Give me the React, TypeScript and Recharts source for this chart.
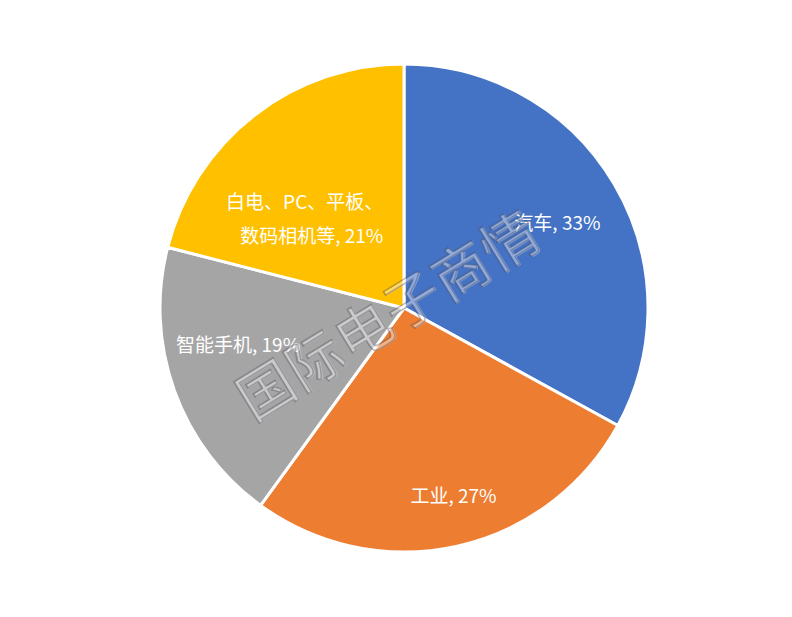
import { PieChart, Pie, Cell } from 'recharts';

// 占比数据（从顶部顺时针）
const names = ['汽车', '工业', '智能手机', '白电、PC、平板、数码相机等'];
const shares = [33, 27, 19, 21];
const colors = ['#4472C4', '#ED7D31', '#A5A5A5', '#FFC000'];

// 标签换行（Excel 那样把长标签拆两行）
const labelLines = [['汽车, 33%'], ['工业, 27%'], ['智能手机, 19%'], ['白电、PC、平板、', '数码相机等, 21%']];
// 标签微调：半径比例 + 像素偏移
const labelTweak = [
  { k: 0.74, dx: -2, dy: 5 },
  { k: 0.78, dx: 8, dy: 0 },
  { k: 0.74, dx: 4, dy: -26 },
  { k: 0.62, dx: -12, dy: 29 },
];

const data = names.map((n, i) => ({ name: n, value: shares[i] }));

const RAD = Math.PI / 180;

const renderLabel = (props: any) => {
  const { cx, cy, midAngle, outerRadius, index } = props;
  const t = labelTweak[index];
  const x = cx + outerRadius * t.k * Math.cos(-midAngle * RAD) + t.dx;
  const y = cy + outerRadius * t.k * Math.sin(-midAngle * RAD) + t.dy;
  const lines = labelLines[index];
  const lh = 34;
  const y0 = y - ((lines.length - 1) * lh) / 2;
  const multi = lines.length > 1;
  return (
    <text
      x={multi ? x + 84 : x}
      y={y0}
      fill="#ffffff"
      fontSize={19}
      fontFamily='"Noto Sans CJK SC", "Noto Sans", sans-serif'
      textAnchor={multi ? 'end' : 'middle'}
      dominantBaseline="central"
    >
      {lines.map((l, i) => (
        <tspan key={i} x={multi ? x + 84 : x} dy={i === 0 ? 0 : lh}>{l}</tspan>
      ))}
    </text>
  );
};

export default function App() {
  return (
    <div style={{ position: 'absolute', left: 0, top: 0, width: 792, height: 617, background: '#fff', overflow: 'hidden' }}>
      <PieChart width={792} height={617} margin={{ top: 0, right: 0, bottom: 0, left: 0 }}>
        <Pie
          data={data}
          dataKey="value"
          nameKey="name"
          cx={404}
          cy={308}
          outerRadius={244}
          startAngle={90}
          endAngle={-270}
          stroke="#ffffff"
          strokeWidth={3}
          label={renderLabel}
          labelLine={false}
          isAnimationActive={false}
        >
          {data.map((d, i) => (
            <Cell key={d.name} fill={colors[i]} />
          ))}
        </Pie>
      </PieChart>
      {/* 水印 */}
      <div
        style={{
          position: 'absolute',
          left: 386,
          top: 312,
          transform: 'translate(-50%, -50%) rotate(-31.5deg)',
          fontFamily: '"Noto Sans CJK SC", sans-serif',
          fontSize: 56,
          letterSpacing: 1,
          whiteSpace: 'nowrap',
          color: 'rgba(255,255,255,0.1)',
          WebkitTextStroke: '1.5px rgba(80,80,95,0.4)',
          textShadow: '1px 1px 0 rgba(255,255,255,0.35)',
          pointerEvents: 'none',
        }}
      >
        国际电子商情
      </div>
    </div>
  );
}
